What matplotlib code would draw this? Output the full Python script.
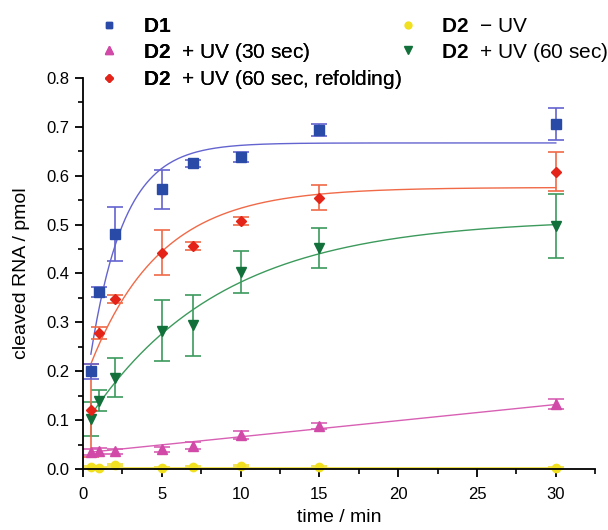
import numpy as np
import matplotlib
matplotlib.use("Agg")
import matplotlib.pyplot as plt
from matplotlib.ticker import MultipleLocator, FormatStrFormatter
from matplotlib.lines import Line2D

plt.rcParams['font.family'] = ['Liberation Sans', 'DejaVu Sans']
plt.rcParams['mathtext.fontset'] = 'custom'
plt.rcParams['mathtext.bf'] = 'Liberation Sans:bold'
plt.rcParams['mathtext.rm'] = 'Liberation Sans'

# Data
t = [0.5, 1, 2, 5, 7, 10, 15, 30]

d1 = [0.200, 0.362, 0.480, 0.572, 0.625, 0.638, 0.693, 0.705]
d1_err = [0.015, 0.010, 0.055, 0.040, 0.008, 0.010, 0.012, 0.033]

d2_noUV = [0.004, 0.003, 0.008, 0.002, 0.004, 0.006, 0.004, 0.003]
d2_noUV_err = [0.002, 0.002, 0.002, 0.002, 0.002, 0.002, 0.002, 0.002]

d2_uv30 = [0.035, 0.037, 0.036, 0.040, 0.048, 0.070, 0.088, 0.133]
d2_uv30_err = [0.006, 0.006, 0.005, 0.006, 0.007, 0.008, 0.007, 0.010]

d2_uv60 = [0.103, 0.140, 0.187, 0.283, 0.294, 0.403, 0.452, 0.497]
d2_uv60_err = [0.035, 0.022, 0.040, 0.062, 0.062, 0.042, 0.040, 0.065]

d2_refold = [0.120, 0.278, 0.348, 0.442, 0.456, 0.508, 0.555, 0.608]
d2_refold_err = [0.095, 0.012, 0.008, 0.046, 0.008, 0.008, 0.025, 0.040]

# fitted curve parameters: start value at t0, plateau, rate
t0 = 0.5
fit_d1 = (0.235, 0.667, 0.47)
fit_refold = (0.215, 0.576, 0.225)
fit_uv60 = (0.110, 0.512, 0.119)
fit_uv30 = (0.033, 0.0033)   # intercept, slope
fit_noUV = 0.003

def first_order(tt, c, a, k):
    return c + (a - c) * (1 - np.exp(-k * (tt - t0)))

tt = np.linspace(t0, 30, 300)

fig = plt.figure(figsize=(6.08, 5.30), dpi=100)
ax = fig.add_axes([0.1365, 0.115, 0.8425, 0.738])

blue_m, blue_l = '#2a4aa8', '#6464d0'
red_m, red_l = '#e42418', '#f06a48'
green_m, green_l = '#12703a', '#3c9a5c'
pink_m, pink_l = '#d24aa8', '#d860b4'
yel_m, yel_l = '#f0e020', '#eede3a'

ax.plot(tt, first_order(tt, *fit_d1), color=blue_l, lw=1)
ax.plot(tt, first_order(tt, *fit_refold), color=red_l, lw=1)
ax.plot(tt, first_order(tt, *fit_uv60), color=green_l, lw=1)
ax.plot(tt, fit_uv30[0] + fit_uv30[1] * tt, color=pink_l, lw=1)
ax.plot(tt, np.full_like(tt, fit_noUV), color=yel_l, lw=1.2)

kw = dict(ls='none', capsize=6, elinewidth=1.2, capthick=1.2, clip_on=False)
ax.errorbar(t, d2_noUV, yerr=d2_noUV_err, marker='o', ms=6, color=yel_m, ecolor=yel_l, **kw)
ax.errorbar(t, d2_uv30, yerr=d2_uv30_err, marker='^', ms=7, color=pink_m, ecolor=pink_l, **kw)
ax.errorbar(t, d2_uv60, yerr=d2_uv60_err, marker='v', ms=7, color=green_m, ecolor=green_l, **kw)
ax.errorbar(t, d2_refold, yerr=d2_refold_err, marker='D', ms=5.5, color=red_m, ecolor=red_l, **kw)
ax.errorbar(t, d1, yerr=d1_err, marker='s', ms=6.5, color=blue_m, ecolor=blue_l, **kw)

ax.set_xlim(0, 32.5)
ax.set_ylim(0, 0.8)
ax.xaxis.set_minor_locator(MultipleLocator(2.5))
ax.yaxis.set_major_locator(MultipleLocator(0.1))
ax.yaxis.set_minor_locator(MultipleLocator(0.05))
ax.yaxis.set_major_formatter(FormatStrFormatter('%.1f'))
ax.set_xticks([0, 5, 10, 15, 20, 25, 30])
ax.spines['top'].set_visible(False)
ax.spines['right'].set_visible(False)
for s in ('left', 'bottom'):
    ax.spines[s].set_linewidth(1.3)
ax.tick_params(which='major', direction='out', length=6, width=1.3, labelsize=12)
ax.tick_params(axis='x', which='major', pad=7)
ax.tick_params(which='minor', direction='out', length=3.5, width=1.2)

ax.set_xlabel('time / min', fontsize=14, labelpad=5)
ax.set_ylabel('cleaved RNA / pmol', fontsize=14, labelpad=12)

def mk(marker, color, ms):
    return Line2D([], [], ls='none', marker=marker, color=color, ms=ms)

leg_kw = dict(frameon=False, fontsize=15, handletextpad=1.0, labelspacing=0.2,
              borderaxespad=0, borderpad=0, handlelength=1.2)
leg1 = fig.legend([mk('s', blue_m, 5), mk('^', pink_m, 6), mk('D', red_m, 4.5)],
                  [r'$\mathbf{D1}$', r'$\mathbf{D2}$  + UV (30 sec)',
                   r'$\mathbf{D2}$  + UV (60 sec, refolding)'],
                  loc='upper left', bbox_to_anchor=(0.159, 0.967), **leg_kw)
fig.add_artist(leg1)
fig.legend([mk('o', yel_m, 5), mk('v', green_m, 6)],
           [r'$\mathbf{D2}$  $-$ UV', r'$\mathbf{D2}$  + UV (60 sec)'],
           loc='upper left', bbox_to_anchor=(0.65, 0.967), **leg_kw)

fig.savefig('out.png', dpi=100)
